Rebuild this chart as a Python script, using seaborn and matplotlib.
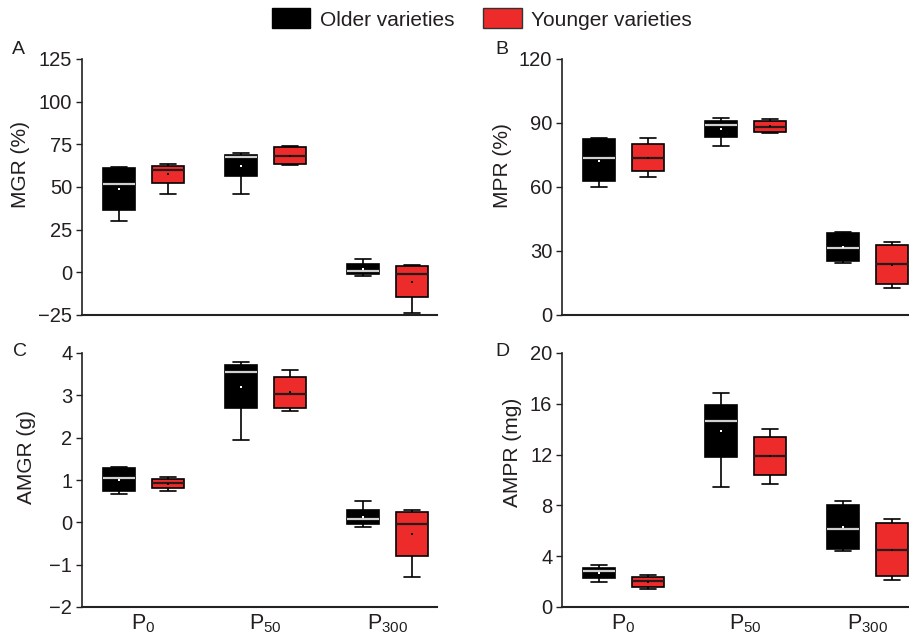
import numpy as np
import pandas as pd
import matplotlib
matplotlib.use("Agg")
import matplotlib.pyplot as plt
from matplotlib.patches import Patch
import seaborn as sns

# ---------------- data ----------------
doses = ["P0", "P50", "P300"]
dose_labels = [r"$\mathregular{P_{0}}$", r"$\mathregular{P_{50}}$", r"$\mathregular{P_{300}}$"]
varieties = ["Older varieties", "Younger varieties"]

# five-number summaries per dose: [whisker low, Q1, median, Q3, whisker high]
mgr_old = [[29.8, 36.6, 52.0, 61.0, 61.6], [46.0, 56.2, 67.3, 68.9, 69.8], [-2.1, -1.0, 1.0, 4.7, 8.0]]
mgr_young = [[46.0, 52.4, 60.0, 62.4, 63.4], [63.0, 63.4, 67.9, 73.2, 73.8], [-23.6, -14.3, -1.1, 3.5, 4.3]]
mgr_old_mean = [48.7, 62.4, 2.0]
mgr_young_mean = [57.5, 68.3, -5.5]

mpr_old = [[60.2, 62.6, 73.8, 82.5, 82.8], [79.3, 83.5, 88.9, 91.1, 92.3], [24.6, 25.2, 31.6, 38.3, 39.1]]
mpr_young = [[64.5, 67.4, 73.8, 80.0, 82.9], [85.3, 85.6, 88.1, 90.9, 91.8], [12.5, 14.6, 23.9, 33.0, 34.3]]
mpr_old_mean = [72.4, 87.3, 31.8]
mpr_young_mean = [73.8, 88.4, 23.6]

amgr_old = [[0.66, 0.73, 1.05, 1.29, 1.31], [1.94, 2.69, 3.54, 3.72, 3.79], [-0.12, -0.04, 0.07, 0.30, 0.51]]
amgr_young = [[0.73, 0.82, 0.94, 1.02, 1.07], [2.64, 2.70, 3.02, 3.43, 3.59], [-1.29, -0.79, -0.05, 0.24, 0.29]]
amgr_old_mean = [1.00, 3.20, 0.13]
amgr_young_mean = [0.91, 3.07, -0.27]

ampr_old = [[1.94, 2.28, 2.83, 3.10, 3.30], [9.45, 11.80, 14.63, 15.92, 16.83], [4.40, 4.53, 6.18, 8.01, 8.38]]
ampr_young = [[1.39, 1.60, 2.04, 2.36, 2.49], [9.71, 10.39, 11.86, 13.35, 14.03], [2.15, 2.41, 4.45, 6.60, 6.96]]
ampr_old_mean = [2.70, 13.87, 6.26]
ampr_young_mean = [1.96, 11.88, 4.50]

panels = [
    ("A", "MGR (%)", mgr_old, mgr_young, mgr_old_mean, mgr_young_mean, (-25, 125), [-25, 0, 25, 50, 75, 100, 125]),
    ("B", "MPR (%)", mpr_old, mpr_young, mpr_old_mean, mpr_young_mean, (0, 120), [0, 30, 60, 90, 120]),
    ("C", "AMGR (g)", amgr_old, amgr_young, amgr_old_mean, amgr_young_mean, (-2, 4), [-2, -1, 0, 1, 2, 3, 4]),
    ("D", "AMPR (mg)", ampr_old, ampr_young, ampr_old_mean, ampr_young_mean, (0, 20), [0, 4, 8, 12, 16, 20]),
]

# ---------------- style ----------------
BLACK = "#000000"
RED = "#ED2B2B"
TXT = "#231F20"

sns.set_theme(style="ticks")
plt.rcParams["font.family"] = ["Liberation Sans", "DejaVu Sans"]
plt.rcParams["mathtext.fontset"] = "custom"
plt.rcParams["mathtext.rm"] = "Liberation Sans"
plt.rcParams["text.color"] = TXT
plt.rcParams["axes.labelcolor"] = TXT
plt.rcParams["xtick.color"] = TXT
plt.rcParams["ytick.color"] = TXT

W, H = 909, 638
fig = plt.figure(figsize=(W / 100, H / 100), dpi=100)

# axes boxes in pixel units: (left, top, right, bottom)
boxes = {
    "A": (82, 59, 437, 315),
    "B": (562, 59, 917, 315),
    "C": (82, 353, 437, 607),
    "D": (562, 353, 917, 607),
}
letter_pos = {"A": (18, 49), "B": (502, 49), "C": (20, 352), "D": (502, 352)}
ylabel_pos = {"A": (20, 164), "B": (503, 166), "C": (27, 457), "D": (512, 452)}


def long_df(old, young):
    rows = []
    for d, vals in zip(doses, old):
        for v in vals:
            rows.append((d, varieties[0], v))
    for d, vals in zip(doses, young):
        for v in vals:
            rows.append((d, varieties[1], v))
    return pd.DataFrame(rows, columns=["dose", "variety", "value"])


def mean_df(old_m, young_m):
    rows = [(d, varieties[0], v) for d, v in zip(doses, old_m)]
    rows += [(d, varieties[1], v) for d, v in zip(doses, young_m)]
    return pd.DataFrame(rows, columns=["dose", "variety", "value"])


for letter, ylabel, old, young, old_m, young_m, ylim, yticks in panels:
    l, t, r, b = boxes[letter]
    ax = fig.add_axes([l / W, (H - b) / H, (r - l) / W, (b - t) / H])
    df = long_df(old, young)
    for var, col, medcol in [(varieties[0], BLACK, "#D0D0D0"), (varieties[1], RED, "#2A1A1A")]:
        sns.boxplot(
            data=df[df["variety"] == var], x="dose", y="value", hue="variety",
            order=doses, hue_order=varieties, palette={varieties[0]: BLACK, varieties[1]: RED},
            whis=(0, 100), width=0.8, gap=0.35, saturation=1, linecolor="black",
            linewidth=1.2, dodge=True, legend=False, ax=ax,
            medianprops=dict(color=medcol, linewidth=1.6),
        )
    mdf = mean_df(old_m, young_m)
    sns.stripplot(
        data=mdf, x="dose", y="value", hue="variety", order=doses, hue_order=varieties,
        palette={varieties[0]: "white", varieties[1]: "black"}, dodge=True, jitter=False,
        marker="s", size=2.0, linewidth=0, legend=False, ax=ax, zorder=5,
    )
    ax.set_xlim(-0.504, 2.406)
    ax.set_ylim(*ylim)
    ax.set_yticks(yticks)
    ax.set_ylabel(ylabel, fontsize=15, va="center")
    ax.yaxis.set_label_coords((ylabel_pos[letter][0] - l) / (r - l),
                              (b - ylabel_pos[letter][1]) / (b - t))
    ax.set_xlabel("")
    ax.set_xticks(range(len(doses)))
    if letter in ("C", "D"):
        ax.set_xticklabels(dose_labels, fontsize=15.5)
    else:
        ax.set_xticklabels([])
    ax.tick_params(axis="x", length=0, pad=4)
    ax.tick_params(axis="y", length=4, width=1, labelsize=14.5, pad=3, direction="out")
    sns.despine(ax=ax)
    for s in ("left", "bottom"):
        ax.spines[s].set_linewidth(1.2)
        ax.spines[s].set_color("#222222")
    ax.spines["bottom"].set_linewidth(1.5)
    ax.grid(False)
    fig.text(letter_pos[letter][0] / W, 1 - letter_pos[letter][1] / H, letter,
             fontsize=14, ha="center", va="center")

handles = [Patch(facecolor=BLACK, edgecolor=BLACK, label=varieties[0]),
           Patch(facecolor=RED, edgecolor="#333333", label=varieties[1])]
fig.legend(handles=handles, loc="center", bbox_to_anchor=(482 / W, 1 - 19 / H), ncol=2,
           frameon=False, fontsize=15, handlelength=1.85, handleheight=1.1,
           handletextpad=0.45, columnspacing=1.4)

fig.savefig("out.png", dpi=100)
